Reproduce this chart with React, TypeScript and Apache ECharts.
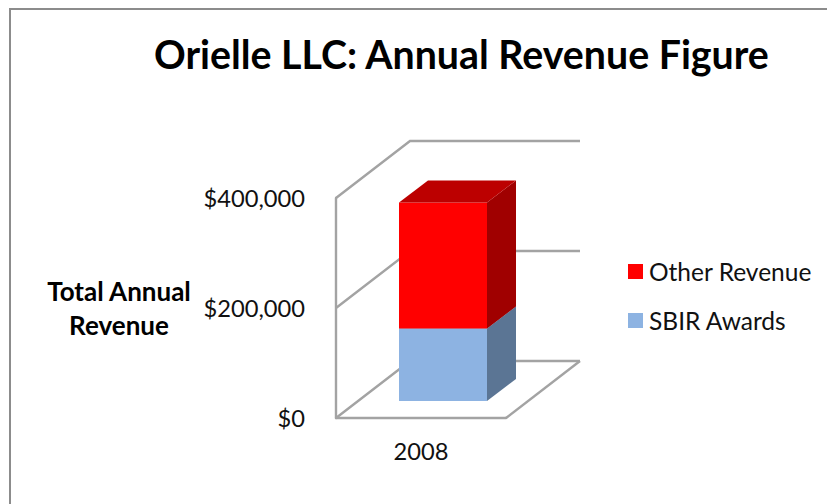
import React, { useEffect, useRef } from "react";
import * as echarts from "echarts";

const categories = ["2008"];
const sbirAwards = [132000];
const otherRevenue = [229000];
const tickValues = [0, 200000, 400000];
const titleText = "Orielle LLC: Annual Revenue Figure";
const axisTitle = "Total Annual\nRevenue";

const FONT = "Lato, Carlito, sans-serif";
const WALL_DX = 74;
const WALL_DY = -57;
const BAR_OFFSET_X = 22;
const BAR_OFFSET_Y = -17;
const BAR_W = 88;
const BAR_DX = 29;
const BAR_DY = -22;
const LINE = "#A3A3A3";

function boxRenderer(front: string, top: string, side: string) {
  return (_p: any, api: any) => {
    const catIndex = api.value(0);
    const a = api.coord([catIndex, api.value(1)]);
    const b = api.coord([catIndex, api.value(2)]);
    const l = a[0] + BAR_OFFSET_X - BAR_W / 2;
    const r = l + BAR_W;
    const y0 = a[1] + BAR_OFFSET_Y;
    const y1 = b[1] + BAR_OFFSET_Y;
    return {
      type: "group",
      children: [
        { type: "rect", shape: { x: l, y: y1, width: BAR_W, height: y0 - y1 }, style: { fill: front } },
        { type: "polygon", shape: { points: [[r, y0], [r + BAR_DX, y0 + BAR_DY], [r + BAR_DX, y1 + BAR_DY], [r, y1]] }, style: { fill: side } },
        { type: "polygon", shape: { points: [[l, y1], [l + BAR_DX, y1 + BAR_DY], [r + BAR_DX, y1 + BAR_DY], [r, y1]] }, style: { fill: top } },
      ],
    };
  };
}

export default function App() {
  const ref = useRef<HTMLDivElement>(null);
  useEffect(() => {
    const chart = echarts.init(ref.current!, undefined, { renderer: "svg" });
    chart.setOption({
      animation: false,
      backgroundColor: "#ffffff",
      title: {
        text: titleText,
        left: 154,
        top: 34,
        padding: 0,
        textStyle: { fontFamily: FONT, fontWeight: "bold", fontSize: 39.3, color: "#000" },
      },
      legend: {
        orient: "vertical",
        left: 628,
        top: 257,
        padding: 0,
        itemWidth: 15,
        itemHeight: 15,
        itemGap: 20,
        itemStyle: { borderWidth: 0 },
        icon: "rect",
        data: ["Other Revenue", "SBIR Awards"],
        textStyle: { fontFamily: FONT, fontSize: 24.5, lineHeight: 29, color: "#111", padding: [0, 0, 0, 1] },
      },
      grid: { left: 336, right: 321, top: 198, bottom: 86, containLabel: false },
      xAxis: {
        type: "category",
        data: categories,
        axisLine: { lineStyle: { color: LINE, width: 2.4 } },
        axisTick: { show: false },
        axisLabel: { fontFamily: FONT, fontSize: 23.7, color: "#111", margin: 21 },
      },
      yAxis: {
        type: "value",
        min: 0,
        max: 400000,
        interval: 200000,
        axisLine: { show: true, lineStyle: { color: LINE, width: 2.4 } },
        axisTick: { show: false },
        splitLine: { show: false },
        axisLabel: {
          fontFamily: FONT,
          fontSize: 23.7,
          color: "#111",
          margin: 31,
          formatter: (v: number) => "$" + v.toLocaleString("en-US"),
        },
      },
      graphic: [
        {
          type: "text",
          x: 119,
          y: 274,
          style: {
            text: axisTitle,
            fontFamily: FONT,
            fontWeight: "bold",
            fontSize: 26,
            lineHeight: 34,
            align: "center",
            verticalAlign: "top",
            fill: "#000",
          },
        },
      ],
      series: [
        {
          type: "custom",
          name: "walls",
          silent: true,
          z: 1,
          data: tickValues.map((v) => [0, v]),
          renderItem: (_p: any, api: any) => {
            const p = api.coord([0, api.value(1)]);
            const bandW = api.size([1, 0])[0];
            const x = p[0] - bandW / 2;
            const y = p[1];
            const children: any[] = [
              {
                type: "polyline",
                shape: { points: [[x, y], [x + WALL_DX, y + WALL_DY], [x + bandW + WALL_DX, y + WALL_DY]] },
                style: { stroke: LINE, lineWidth: 2.4, fill: "none" },
              },
            ];
            if (api.value(1) === 0) {
              children.push({
                type: "line",
                shape: { x1: x + bandW, y1: y, x2: x + bandW + WALL_DX, y2: y + WALL_DY },
                style: { stroke: LINE, lineWidth: 2.4 },
              });
            }
            return { type: "group", children };
          },
        },
        {
          type: "custom",
          name: "SBIR Awards",
          z: 2,
          itemStyle: { color: "#8DB3E2" },
          data: categories.map((_, i) => [i, 0, sbirAwards[i]]),
          encode: { x: 0, y: [1, 2] },
          renderItem: boxRenderer("#8DB3E2", "#7390B5", "#5B7594"),
        },
        {
          type: "custom",
          name: "Other Revenue",
          z: 3,
          itemStyle: { color: "#FF0000" },
          data: categories.map((_, i) => [i, sbirAwards[i], sbirAwards[i] + otherRevenue[i]]),
          encode: { x: 0, y: [1, 2] },
          renderItem: boxRenderer("#FF0000", "#BC0000", "#A00000"),
        },
      ],
    });
    return () => chart.dispose();
  }, []);
  return (
    <div style={{ position: "fixed", left: 0, top: 0, width: 827, height: 504, background: "#fff" }}>
      <div ref={ref} style={{ width: 827, height: 504 }} />
      <div
        style={{
          position: "absolute",
          left: 9,
          top: 8,
          width: 818,
          height: 496,
          borderTop: "2px solid #8C8C8C",
          borderLeft: "2px solid #8C8C8C",
          boxSizing: "border-box",
          pointerEvents: "none",
        }}
      />
    </div>
  );
}
